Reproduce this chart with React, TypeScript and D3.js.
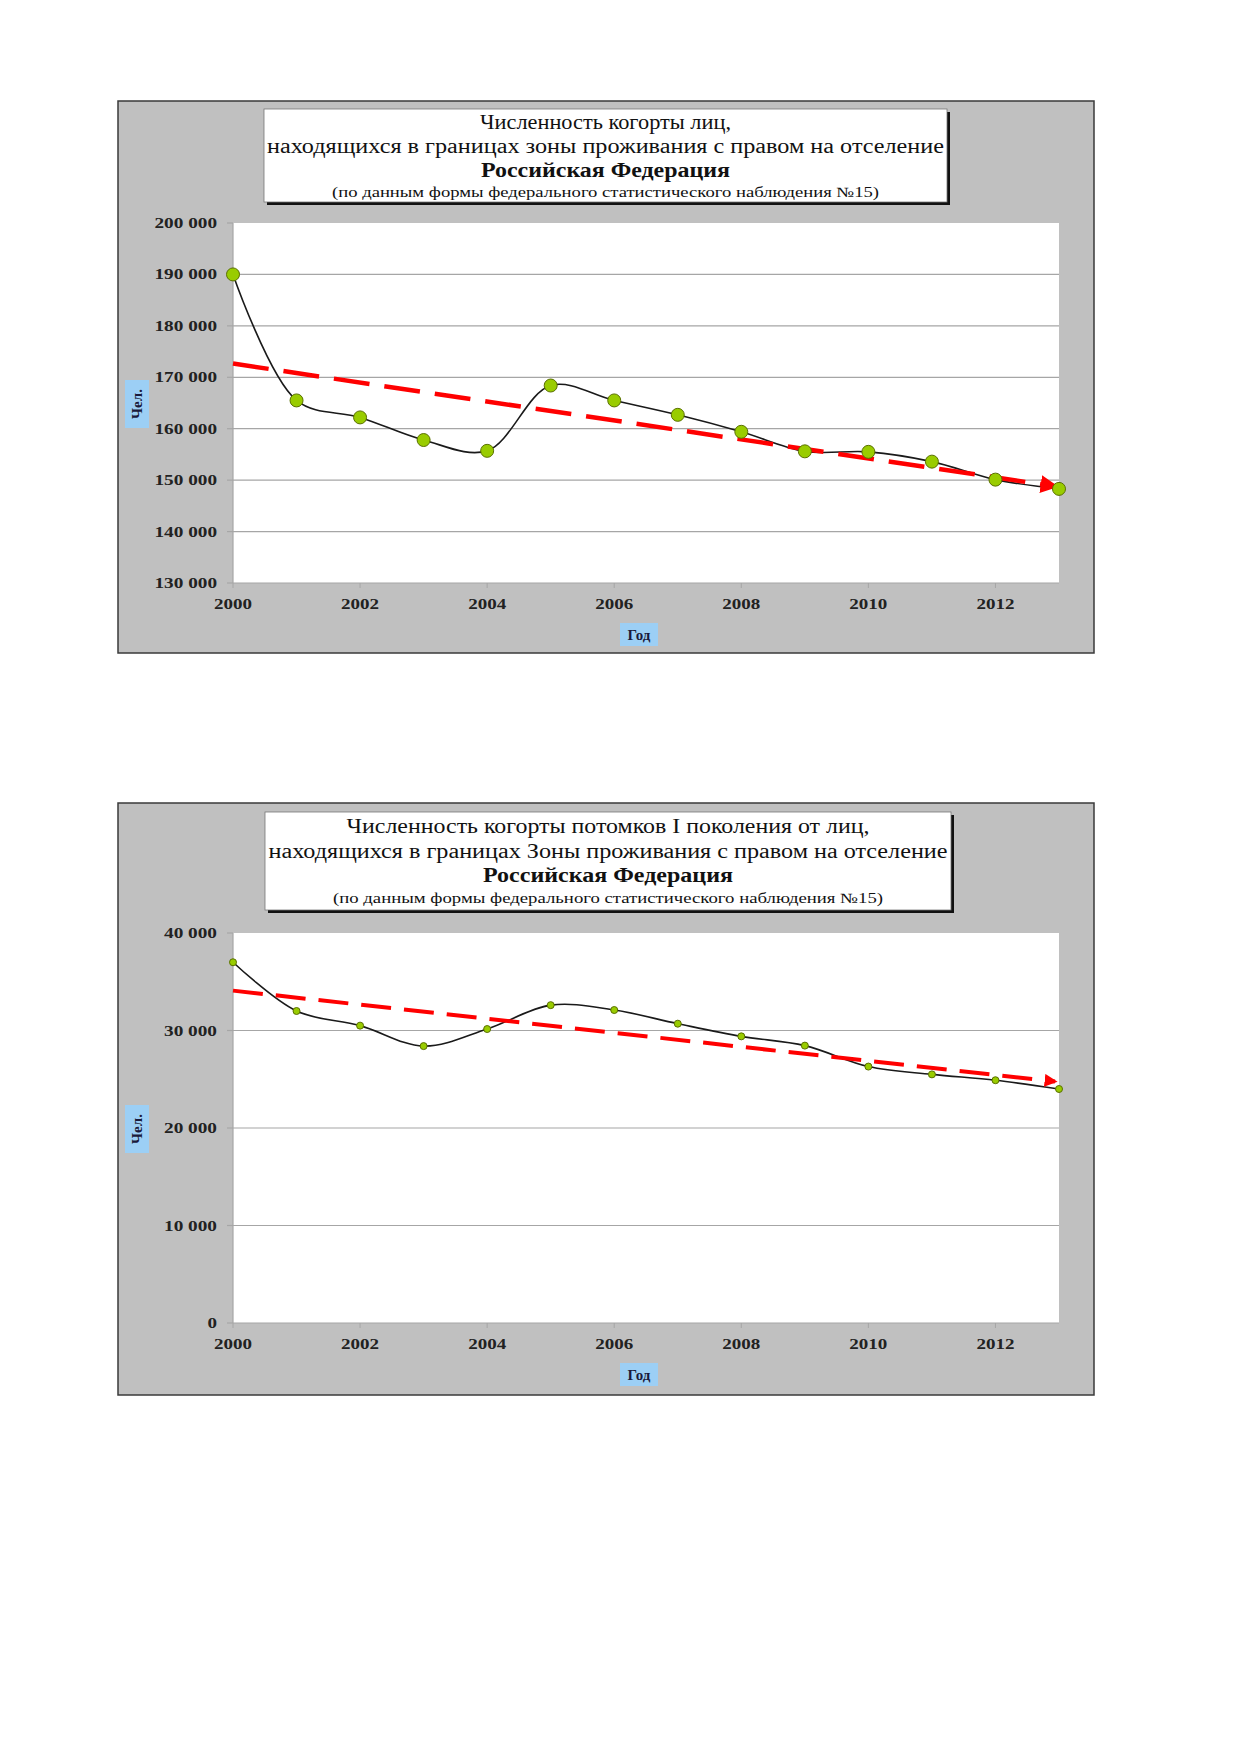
import React from 'react';
import * as d3 from 'd3';

// years on the x axis
const years = [2000, 2001, 2002, 2003, 2004, 2005, 2006, 2007, 2008, 2009, 2010, 2011, 2012, 2013];
const yearTicks = [2000, 2002, 2004, 2006, 2008, 2010, 2012];

// cohort living in the zone with right to resettle
const cohortValues = [190000, 165500, 162200, 157800, 155700, 168400, 165500, 162700, 159400, 155600, 155500, 153600, 150100, 148300];
const cohortTicks = [130000, 140000, 150000, 160000, 170000, 180000, 190000, 200000];
const cohortTitle = [
  'Численность когорты лиц,',
  'находящихся в границах зоны проживания  с правом на отселение',
  'Российская Федерация',
  '(по данным формы федерального статистического наблюдения №15)',
];

// first generation descendants
const descendantValues = [37000, 32000, 30500, 28400, 30150, 32600, 32100, 30700, 29400, 28450, 26300, 25500, 24900, 24000];
const descendantTicks = [0, 10000, 20000, 30000, 40000];
const descendantTitle = [
  'Численность когорты потомков I поколения от лиц,',
  'находящихся в границах Зоны проживания  с правом на отселение',
  'Российская Федерация',
  '(по данным формы федерального статистического наблюдения №15)',
];

const FONT = '"Liberation Serif", "Times New Roman", serif';
const fmt = (v: number) => d3.format(',')(v).replace(/,/g, ' ');
// the scanned labels are wide, stretch them a bit
const labelLen = (s: string) => s.replace(/ /g, '').length * 9.5 + (s.split(' ').length - 1) * 5.5;

type ChartProps = {
  id: string;
  values: number[];
  ticks: number[];
  title: string[];
  frameTop: number;
  frameH: number;
  plotTop: number;
  plotBottom: number;
  titleBox: [number, number, number, number]; // x0, y0, x1, y1
  titleBase: number[];
  titleLen: number[];
  markerR: number;
  dash: string;
  trendW: number;
  arrow: number;
};

const Chart: React.FC<ChartProps> = (p) => {
  const frameX = 118, frameW = 976;
  const plotLeft = 233, plotRight = 1059;
  const x = d3.scaleLinear().domain([2000, 2013]).range([plotLeft, plotRight]);
  const y = d3.scaleLinear().domain([p.ticks[0], p.ticks[p.ticks.length - 1]]).range([p.plotBottom, p.plotTop]);

  const pts: [number, number][] = years.map((yr, i) => [yr, p.values[i]]);
  const line = d3.line<[number, number]>()
    .x(d => x(d[0]))
    .y(d => y(d[1]))
    .curve(d3.curveCatmullRom.alpha(0.5));

  // linear trend line, least squares
  const mx = d3.mean(years) as number;
  const my = d3.mean(p.values) as number;
  const sxy = d3.sum(years, (yr, i) => (yr - mx) * (p.values[i] - my));
  const sxx = d3.sum(years, yr => (yr - mx) ** 2);
  const slope = sxy / sxx;
  const trend = (yr: number) => my + slope * (yr - mx);
  const x0 = years[0], x1 = years[years.length - 1];

  const [tx0, ty0, tx1, ty1] = p.titleBox;
  const tcx = (tx0 + tx1) / 2;
  const midY = (p.plotTop + p.plotBottom) / 2;

  return (
    <g>
      <defs>
        <marker id={`arr-${p.id}`} viewBox="0 0 10 10" refX="8" refY="5"
          markerWidth={p.arrow} markerHeight={p.arrow} markerUnits="userSpaceOnUse" orient="auto">
          <path d="M0,0 L10,5 L0,10 z" fill="#ff0000" />
        </marker>
      </defs>
      {/* outer frame */}
      <rect x={frameX} y={p.frameTop} width={frameW} height={p.frameH} fill="#c0c0c0" stroke="#3a3a3a" strokeWidth={1.5} />
      {/* title box */}
      <rect x={tx0 + 3} y={ty0 + 3} width={tx1 - tx0} height={ty1 - ty0} fill="#111" />
      <rect x={tx0} y={ty0} width={tx1 - tx0} height={ty1 - ty0} fill="#fff" stroke="#777" strokeWidth={0.8} />
      {p.title.map((t, i) => (
        <text key={i} x={tcx} y={p.titleBase[i]} textAnchor="middle" fontFamily={FONT}
          fontSize={i === 3 ? 14 : 20} fontWeight={i === 2 ? 'bold' : 'normal'} fill="#111"
          textLength={p.titleLen[i]} lengthAdjust="spacingAndGlyphs">{t}</text>
      ))}
      {/* plot area */}
      <rect x={plotLeft} y={p.plotTop} width={plotRight - plotLeft} height={p.plotBottom - p.plotTop} fill="#fff" />
      {p.ticks.map(t => (
        <g key={t}>
          {t !== p.ticks[0] && t !== p.ticks[p.ticks.length - 1] &&
            <line x1={plotLeft} x2={plotRight} y1={y(t)} y2={y(t)} stroke="#a6a6a6" strokeWidth={1.2} />}
          <line x1={plotLeft - 6} x2={plotLeft} y1={y(t)} y2={y(t)} stroke="#a6a6a6" strokeWidth={1.2} />
          <text x={217} y={y(t) + 5} textAnchor="end" fontFamily={FONT} fontSize={15} fontWeight="bold" fill="#222"
            textLength={labelLen(fmt(t))} lengthAdjust="spacingAndGlyphs">{fmt(t)}</text>
        </g>
      ))}
      <line x1={plotLeft} x2={plotLeft} y1={p.plotTop} y2={p.plotBottom} stroke="#a6a6a6" strokeWidth={1.2} />
      <line x1={plotLeft} x2={plotRight} y1={p.plotBottom} y2={p.plotBottom} stroke="#a6a6a6" strokeWidth={1.2} />
      {yearTicks.map(yr => (
        <g key={yr}>
          <line x1={x(yr)} x2={x(yr)} y1={p.plotBottom} y2={p.plotBottom + 5} stroke="#a6a6a6" />
          <text x={x(yr)} y={p.plotBottom + 26} textAnchor="middle" fontFamily={FONT} fontSize={15} fontWeight="bold" fill="#222"
            textLength={labelLen(String(yr))} lengthAdjust="spacingAndGlyphs">{yr}</text>
        </g>
      ))}
      {/* axis titles */}
      <rect x={125} y={midY - 23} width={24} height={48} fill="#9ccff5" />
      <text transform={`translate(142,${midY + 1}) rotate(-90)`} textAnchor="middle" fontFamily={FONT}
        fontSize={15} fontWeight="bold" fill="#1a1a3a">Чел.</text>
      <rect x={620} y={p.plotBottom + 40} width={38} height={23} fill="#9ccff5" />
      <text x={639} y={p.plotBottom + 57} textAnchor="middle" fontFamily={FONT} fontSize={15} fontWeight="bold" fill="#1a1a3a">Год</text>
      {/* data */}
      <path d={line(pts) || ''} fill="none" stroke="#1a1a1a" strokeWidth={1.6} />
      <line x1={x(x0)} y1={y(trend(x0))} x2={x(x1) - 4} y2={y(trend(x1))} stroke="#ff0000" strokeWidth={p.trendW}
        strokeDasharray={p.dash} markerEnd={`url(#arr-${p.id})`} />
      {pts.map(d => (
        <circle key={d[0]} cx={x(d[0])} cy={y(d[1])} r={p.markerR} fill="#99cc00" stroke="#5a7000" strokeWidth={1} />
      ))}
    </g>
  );
};

export default function App() {
  return (
    <svg width={1239} height={1752} style={{ position: 'absolute', left: 0, top: 0, background: '#fff' }}>
      <Chart id="a" values={cohortValues} ticks={cohortTicks} title={cohortTitle}
        frameTop={101} frameH={552} plotTop={223} plotBottom={583}
        titleBox={[264, 109, 947, 202]} titleBase={[129, 153, 177, 197]} titleLen={[251, 677, 249, 547]}
        markerR={6.5} dash="36 15" trendW={4.5} arrow={18} />
      <Chart id="b" values={descendantValues} ticks={descendantTicks} title={descendantTitle}
        frameTop={803} frameH={592} plotTop={933} plotBottom={1323}
        titleBox={[265, 812, 951, 910]} titleBase={[833, 858, 882, 903]} titleLen={[523, 679, 250, 550]}
        markerR={3.5} dash="30 13" trendW={4} arrow={13} />
    </svg>
  );
}
